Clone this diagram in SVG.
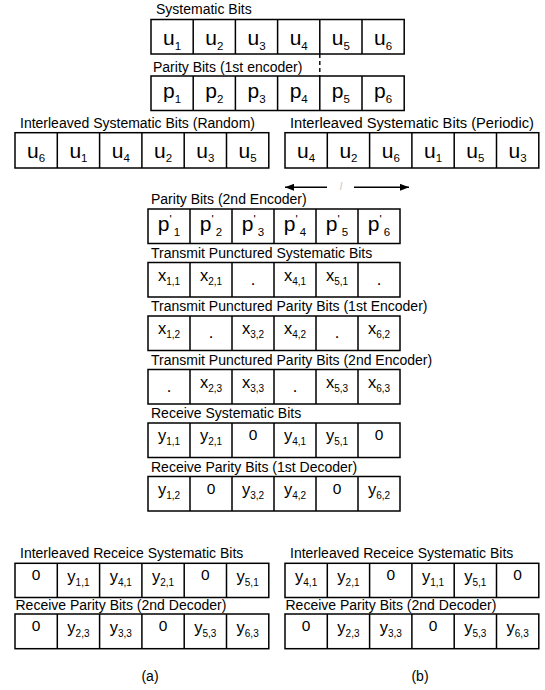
<svg xmlns="http://www.w3.org/2000/svg" width="545" height="690" viewBox="0 0 545 690">
<defs>
<style>
.lbl{font-family:"Liberation Sans",Arial,sans-serif;font-size:14px;fill:#000}
.box{fill:#fff;stroke:#000;stroke-width:1.5}
.dv{fill:none;stroke:#000;stroke-width:1.5}
.c{font-family:"Liberation Sans",Arial,sans-serif;text-anchor:middle;fill:#000}
.b{font-size:21px}
.m{font-size:16.5px}
.z{font-size:15.5px}
.s1{font-size:11.5px}
.s2{font-size:10px}
.cap{font-family:"Liberation Sans",Arial,sans-serif;font-size:14px;text-anchor:middle}
.con{fill:none;stroke:#000;stroke-width:1.4}
</style>
<marker id="ah" viewBox="0 0 9 7" refX="9" refY="3.5" markerWidth="9" markerHeight="7" markerUnits="userSpaceOnUse" orient="auto"><path d="M0,0L9,3.5L0,7z" fill="#000"/></marker>
</defs>
<rect width="545" height="690" fill="#fff"/>

<g id="systematic-bits">
<text class="lbl" x="156" y="14">Systematic Bits</text>
<rect class="box" x="151" y="19.5" width="253.2" height="34.5"/>
<path class="dv" d="M193.2 19.5v34.5M235.4 19.5v34.5M277.6 19.5v34.5M319.8 19.5v34.5M362 19.5v34.5"/>
<text class="c b" x="172.1" y="45">u<tspan class="s1" dy="4.5">1</tspan></text>
<text class="c b" x="214.3" y="45">u<tspan class="s1" dy="4.5">2</tspan></text>
<text class="c b" x="256.5" y="45">u<tspan class="s1" dy="4.5">3</tspan></text>
<text class="c b" x="298.7" y="45">u<tspan class="s1" dy="4.5">4</tspan></text>
<text class="c b" x="340.9" y="45">u<tspan class="s1" dy="4.5">5</tspan></text>
<text class="c b" x="383.1" y="45">u<tspan class="s1" dy="4.5">6</tspan></text>
</g>

<g id="parity-bits-1st">
<text class="lbl" x="153" y="72">Parity Bits (1st encoder)</text>
<rect class="box" x="151" y="76" width="253.2" height="34.5"/>
<path class="dv" d="M193.2 76v34.5M235.4 76v34.5M277.6 76v34.5M319.8 76v34.5M362 76v34.5"/>
<text class="c b" x="172.1" y="97.5">p<tspan class="s1" dy="5">1</tspan></text>
<text class="c b" x="214.3" y="97.5">p<tspan class="s1" dy="5">2</tspan></text>
<text class="c b" x="256.5" y="97.5">p<tspan class="s1" dy="5">3</tspan></text>
<text class="c b" x="298.7" y="97.5">p<tspan class="s1" dy="5">4</tspan></text>
<text class="c b" x="340.9" y="97.5">p<tspan class="s1" dy="5">5</tspan></text>
<text class="c b" x="383.1" y="97.5">p<tspan class="s1" dy="5">6</tspan></text>
</g>

<g id="interleaved-random">
<text class="lbl" x="20" y="128">Interleaved Systematic Bits (Random)</text>
<rect class="box" x="15" y="132.7" width="253.8" height="35.3"/>
<path class="dv" d="M57.3 132.7v35.3M99.6 132.7v35.3M141.9 132.7v35.3M184.2 132.7v35.3M226.5 132.7v35.3"/>
<text class="c b" x="36.15" y="157.5">u<tspan class="s1" dy="4.5">6</tspan></text>
<text class="c b" x="78.45" y="157.5">u<tspan class="s1" dy="4.5">1</tspan></text>
<text class="c b" x="120.75" y="157.5">u<tspan class="s1" dy="4.5">4</tspan></text>
<text class="c b" x="163.05" y="157.5">u<tspan class="s1" dy="4.5">2</tspan></text>
<text class="c b" x="205.35" y="157.5">u<tspan class="s1" dy="4.5">3</tspan></text>
<text class="c b" x="247.65" y="157.5">u<tspan class="s1" dy="4.5">5</tspan></text>
</g>

<g id="interleaved-periodic">
<text class="lbl" x="290" y="128" textLength="244" lengthAdjust="spacingAndGlyphs">Interleaved Systematic Bits (Periodic)</text>
<rect class="box" x="285" y="132.7" width="253.8" height="35.3"/>
<path class="dv" d="M327.3 132.7v35.3M369.6 132.7v35.3M411.9 132.7v35.3M454.2 132.7v35.3M496.5 132.7v35.3"/>
<text class="c b" x="306.15" y="157.5">u<tspan class="s1" dy="4.5">4</tspan></text>
<text class="c b" x="348.45" y="157.5">u<tspan class="s1" dy="4.5">2</tspan></text>
<text class="c b" x="390.75" y="157.5">u<tspan class="s1" dy="4.5">6</tspan></text>
<text class="c b" x="433.05" y="157.5">u<tspan class="s1" dy="4.5">1</tspan></text>
<text class="c b" x="475.35" y="157.5">u<tspan class="s1" dy="4.5">5</tspan></text>
<text class="c b" x="517.65" y="157.5">u<tspan class="s1" dy="4.5">3</tspan></text>
<text x="341" y="190" font-family="Liberation Sans, Arial, sans-serif" font-size="11" font-style="italic" fill="#c8c8c8" text-anchor="middle">l</text>
</g>

<g id="parity-bits-2nd">
<text class="lbl" x="151" y="204">Parity Bits (2nd Encoder)</text>
<rect class="box" x="148" y="209" width="252" height="34.5"/>
<path class="dv" d="M190 209v34.5M232 209v34.5M274 209v34.5M316 209v34.5M358 209v34.5"/>
<text class="c b" x="169" y="230.5">p<tspan class="s1" dy="-8">'</tspan><tspan class="s1" dx="2" dy="13">1</tspan></text>
<text class="c b" x="211" y="230.5">p<tspan class="s1" dy="-8">'</tspan><tspan class="s1" dx="2" dy="13">2</tspan></text>
<text class="c b" x="253" y="230.5">p<tspan class="s1" dy="-8">'</tspan><tspan class="s1" dx="2" dy="13">3</tspan></text>
<text class="c b" x="295" y="230.5">p<tspan class="s1" dy="-8">'</tspan><tspan class="s1" dx="2" dy="13">4</tspan></text>
<text class="c b" x="337" y="230.5">p<tspan class="s1" dy="-8">'</tspan><tspan class="s1" dx="2" dy="13">5</tspan></text>
<text class="c b" x="379" y="230.5">p<tspan class="s1" dy="-8">'</tspan><tspan class="s1" dx="2" dy="13">6</tspan></text>
</g>

<g id="transmit-systematic">
<text class="lbl" x="151" y="257.5">Transmit Punctured Systematic Bits</text>
<rect class="box" x="148" y="262.5" width="252" height="34.5"/>
<path class="dv" d="M190 262.5v34.5M232 262.5v34.5M274 262.5v34.5M316 262.5v34.5M358 262.5v34.5"/>
<text class="c m" x="169" y="280.5">x<tspan class="s2" dy="4">1,1</tspan></text>
<text class="c m" x="211" y="280.5">x<tspan class="s2" dy="4">2,1</tspan></text>
<text class="c m" x="253" y="284.5">.</text>
<text class="c m" x="295" y="280.5">x<tspan class="s2" dy="4">4,1</tspan></text>
<text class="c m" x="337" y="280.5">x<tspan class="s2" dy="4">5,1</tspan></text>
<text class="c m" x="379" y="284.5">.</text>
</g>

<g id="transmit-parity-1st">
<text class="lbl" x="151" y="311">Transmit Punctured Parity Bits (1st Encoder)</text>
<rect class="box" x="148" y="316" width="252" height="34.5"/>
<path class="dv" d="M190 316v34.5M232 316v34.5M274 316v34.5M316 316v34.5M358 316v34.5"/>
<text class="c m" x="169" y="334">x<tspan class="s2" dy="4">1,2</tspan></text>
<text class="c m" x="211" y="338">.</text>
<text class="c m" x="253" y="334">x<tspan class="s2" dy="4">3,2</tspan></text>
<text class="c m" x="295" y="334">x<tspan class="s2" dy="4">4,2</tspan></text>
<text class="c m" x="337" y="338">.</text>
<text class="c m" x="379" y="334">x<tspan class="s2" dy="4">6,2</tspan></text>
</g>

<g id="transmit-parity-2nd">
<text class="lbl" x="151" y="364.5">Transmit Punctured Parity Bits (2nd Encoder)</text>
<rect class="box" x="148" y="369.5" width="252" height="34.5"/>
<path class="dv" d="M190 369.5v34.5M232 369.5v34.5M274 369.5v34.5M316 369.5v34.5M358 369.5v34.5"/>
<text class="c m" x="169" y="391.5">.</text>
<text class="c m" x="211" y="387.5">x<tspan class="s2" dy="4">2,3</tspan></text>
<text class="c m" x="253" y="387.5">x<tspan class="s2" dy="4">3,3</tspan></text>
<text class="c m" x="295" y="391.5">.</text>
<text class="c m" x="337" y="387.5">x<tspan class="s2" dy="4">5,3</tspan></text>
<text class="c m" x="379" y="387.5">x<tspan class="s2" dy="4">6,3</tspan></text>
</g>

<g id="receive-systematic">
<text class="lbl" x="151" y="418">Receive Systematic Bits</text>
<rect class="box" x="148" y="423" width="252" height="34.5"/>
<path class="dv" d="M190 423v34.5M232 423v34.5M274 423v34.5M316 423v34.5M358 423v34.5"/>
<text class="c m" x="169" y="441">y<tspan class="s2" dy="4">1,1</tspan></text>
<text class="c m" x="211" y="441">y<tspan class="s2" dy="4">2,1</tspan></text>
<text class="c z" x="253" y="440">0</text>
<text class="c m" x="295" y="441">y<tspan class="s2" dy="4">4,1</tspan></text>
<text class="c m" x="337" y="441">y<tspan class="s2" dy="4">5,1</tspan></text>
<text class="c z" x="379" y="440">0</text>
</g>

<g id="receive-parity-1st">
<text class="lbl" x="151" y="471.5">Receive Parity Bits (1st Decoder)</text>
<rect class="box" x="148" y="476.5" width="252" height="34.5"/>
<path class="dv" d="M190 476.5v34.5M232 476.5v34.5M274 476.5v34.5M316 476.5v34.5M358 476.5v34.5"/>
<text class="c m" x="169" y="494.5">y<tspan class="s2" dy="4">1,2</tspan></text>
<text class="c z" x="211" y="493.5">0</text>
<text class="c m" x="253" y="494.5">y<tspan class="s2" dy="4">3,2</tspan></text>
<text class="c m" x="295" y="494.5">y<tspan class="s2" dy="4">4,2</tspan></text>
<text class="c z" x="337" y="493.5">0</text>
<text class="c m" x="379" y="494.5">y<tspan class="s2" dy="4">6,2</tspan></text>
</g>

<g id="a-interleaved-receive">
<text class="lbl" x="20" y="558">Interleaved Receice Systematic Bits</text>
<rect class="box" x="15" y="563.3" width="253.8" height="34.2"/>
<path class="dv" d="M57.3 563.3v34.2M99.6 563.3v34.2M141.9 563.3v34.2M184.2 563.3v34.2M226.5 563.3v34.2"/>
<text class="c z" x="36.15" y="580">0</text>
<text class="c m" x="78.45" y="581.5">y<tspan class="s2" dy="4">1,1</tspan></text>
<text class="c m" x="120.75" y="581.5">y<tspan class="s2" dy="4">4,1</tspan></text>
<text class="c m" x="163.05" y="581.5">y<tspan class="s2" dy="4">2,1</tspan></text>
<text class="c z" x="205.35" y="580">0</text>
<text class="c m" x="247.65" y="581.5">y<tspan class="s2" dy="4">5,1</tspan></text>
</g>

<g id="a-receive-parity-2nd">
<text class="lbl" x="15.5" y="609.5">Receive Parity Bits (2nd Decoder)</text>
<rect class="box" x="15" y="614" width="253.8" height="34.7"/>
<path class="dv" d="M57.3 614v34.7M99.6 614v34.7M141.9 614v34.7M184.2 614v34.7M226.5 614v34.7"/>
<text class="c z" x="36.15" y="631">0</text>
<text class="c m" x="78.45" y="632.5">y<tspan class="s2" dy="4">2,3</tspan></text>
<text class="c m" x="120.75" y="632.5">y<tspan class="s2" dy="4">3,3</tspan></text>
<text class="c z" x="163.05" y="631">0</text>
<text class="c m" x="205.35" y="632.5">y<tspan class="s2" dy="4">5,3</tspan></text>
<text class="c m" x="247.65" y="632.5">y<tspan class="s2" dy="4">6,3</tspan></text>
</g>

<g id="b-interleaved-receive">
<text class="lbl" x="290" y="558">Interleaved Receice Systematic Bits</text>
<rect class="box" x="285" y="563.3" width="253.8" height="34.2"/>
<path class="dv" d="M327.3 563.3v34.2M369.6 563.3v34.2M411.9 563.3v34.2M454.2 563.3v34.2M496.5 563.3v34.2"/>
<text class="c m" x="306.15" y="581.5">y<tspan class="s2" dy="4">4,1</tspan></text>
<text class="c m" x="348.45" y="581.5">y<tspan class="s2" dy="4">2,1</tspan></text>
<text class="c z" x="390.75" y="580">0</text>
<text class="c m" x="433.05" y="581.5">y<tspan class="s2" dy="4">1,1</tspan></text>
<text class="c m" x="475.35" y="581.5">y<tspan class="s2" dy="4">5,1</tspan></text>
<text class="c z" x="517.65" y="580">0</text>
</g>

<g id="b-receive-parity-2nd">
<text class="lbl" x="285.5" y="609.5">Receive Parity Bits (2nd Decoder)</text>
<rect class="box" x="285" y="614" width="253.8" height="34.7"/>
<path class="dv" d="M327.3 614v34.7M369.6 614v34.7M411.9 614v34.7M454.2 614v34.7M496.5 614v34.7"/>
<text class="c z" x="306.15" y="631">0</text>
<text class="c m" x="348.45" y="632.5">y<tspan class="s2" dy="4">2,3</tspan></text>
<text class="c m" x="390.75" y="632.5">y<tspan class="s2" dy="4">3,3</tspan></text>
<text class="c z" x="433.05" y="631">0</text>
<text class="c m" x="475.35" y="632.5">y<tspan class="s2" dy="4">5,3</tspan></text>
<text class="c m" x="517.65" y="632.5">y<tspan class="s2" dy="4">6,3</tspan></text>
</g>

<g id="captions">
<text class="cap" x="150" y="681">(a)</text>
<text class="cap" x="420" y="681">(b)</text>
</g>

<g id="connectors">
<line class="con" x1="319.8" y1="54" x2="319.8" y2="76" stroke-dasharray="4 3"/>
<line class="con" x1="327" y1="187.3" x2="285" y2="187.3" marker-end="url(#ah)"/>
<line class="con" x1="354" y1="187.3" x2="409" y2="187.3" marker-end="url(#ah)"/>
</g>
</svg>
